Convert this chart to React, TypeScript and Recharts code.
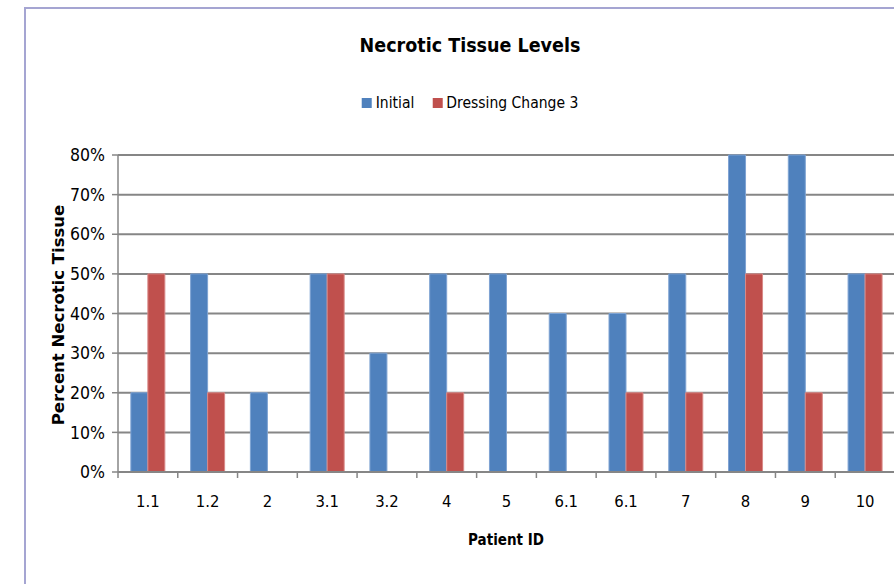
import React from "react"
import { BarChart, Bar, XAxis, YAxis, CartesianGrid } from "recharts"

const patients = ["1.1", "1.2", "2", "3.1", "3.2", "4", "5", "6.1", "6.1", "7", "8", "9", "10"]
const initial = [0.2, 0.5, 0.2, 0.5, 0.3, 0.5, 0.5, 0.4, 0.4, 0.5, 0.8, 0.8, 0.5]
const dressingChange3 = [0.5, 0.2, 0, 0.5, 0, 0.2, 0, 0, 0.2, 0.2, 0.5, 0.2, 0.5]
const yTicks = [0, 0.1, 0.2, 0.3, 0.4, 0.5, 0.6, 0.7, 0.8]
const seriesNames = ["Initial", "Dressing Change 3"]

const data = patients.map((p, i) => ({ id: p, initial: initial[i], dc3: dressingChange3[i] }))

const FONT = "'DejaVu Sans Condensed', 'Liberation Sans', sans-serif"
const BLUE = "#4f81bd"
const RED = "#c0504d"
const GRID = "#868686"

const W = 894
const H = 584
const PLOT_LEFT = 118
const PLOT_RIGHT = 895
const BAND = (PLOT_RIGHT - PLOT_LEFT) / patients.length

function XTick(props: any) {
  const { x, y, payload, index } = props
  const left = x - BAND / 2
  return (
    <g>
      <line x1={left} y1={y - 8} x2={left} y2={y - 2} stroke={GRID} strokeWidth={1.5} />
      {index === patients.length - 1 && (
        <line x1={left + BAND} y1={y - 8} x2={left + BAND} y2={y - 2} stroke={GRID} strokeWidth={1.5} />
      )}
      <text x={x} y={y + 27} textAnchor="middle" fontSize={16.5} fontFamily={FONT} fill="#000">
        {payload.value}
      </text>
    </g>
  )
}

export default function App() {
  const colors = [BLUE, RED]
  return (
    <div style={{ position: "absolute", left: 0, top: 0, width: W, height: H, overflow: "hidden", background: "#fff" }}>
      <div
        style={{
          position: "absolute",
          left: 24,
          top: 7,
          width: 900,
          height: 620,
          borderLeft: "2px solid #a5a5d2",
          borderTop: "2px solid #a5a5d2",
        }}
      />
      <div
        style={{
          position: "absolute",
          left: 470,
          top: 45,
          transform: "translate(-50%, -50%)",
          whiteSpace: "nowrap",
          fontFamily: FONT,
          fontWeight: "bold",
          fontSize: 19.5,
          color: "#000",
        }}
      >
        Necrotic Tissue Levels
      </div>
      <div
        style={{
          position: "absolute",
          left: 470,
          top: 103,
          transform: "translate(-50%, -50%)",
          display: "flex",
          gap: 18,
          whiteSpace: "nowrap",
          fontFamily: FONT,
          fontSize: 15.5,
          color: "#000",
        }}
      >
        {seriesNames.map((name, i) => (
          <div key={name} style={{ display: "flex", alignItems: "center" }}>
            <span style={{ width: 10, height: 10, background: colors[i], display: "inline-block", marginRight: 4 }} />
            {name}
          </div>
        ))}
      </div>
      <div style={{ position: "absolute", left: 0, top: 0 }}>
        <BarChart
          width={W}
          height={H}
          data={data}
          margin={{ top: 155, right: W - PLOT_RIGHT, bottom: 82, left: 0 }}
          barCategoryGap="21.5%"
          barGap={0}
        >
          <CartesianGrid vertical={false} stroke={GRID} strokeWidth={2} />
          <XAxis
            dataKey="id"
            interval={0}
            height={30}
            tickLine={false}
            axisLine={{ stroke: GRID, strokeWidth: 2 }}
            tick={<XTick />}
          />
          <YAxis
            width={PLOT_LEFT}
            domain={[0, 0.8]}
            ticks={yTicks}
            interval={0}
            tickFormatter={(v: number) => `${Math.round(v * 100)}%`}
            axisLine={{ stroke: GRID, strokeWidth: 1.5 }}
            tickLine={{ stroke: GRID, strokeWidth: 1.5 }}
            tickSize={6}
            tickMargin={7}
            tick={{ fontSize: 17.5, fontFamily: FONT, fill: "#000" }}
          />
          <Bar dataKey="initial" name="Initial" fill={BLUE} stroke="#7ea3d3" strokeWidth={1} isAnimationActive={false} />
          <Bar dataKey="dc3" name="Dressing Change 3" fill={RED} stroke="#d98a88" strokeWidth={1} isAnimationActive={false} />
        </BarChart>
      </div>
      <div
        style={{
          position: "absolute",
          left: 58,
          top: 315,
          transform: "translate(-50%, -50%) rotate(-90deg)",
          whiteSpace: "nowrap",
          fontFamily: "'DejaVu Sans', sans-serif",
          fontWeight: "bold",
          fontSize: 16.5,
          color: "#000",
        }}
      >
        Percent Necrotic Tissue
      </div>
      <div
        style={{
          position: "absolute",
          left: 506,
          top: 540,
          transform: "translate(-50%, -50%)",
          whiteSpace: "nowrap",
          fontFamily: FONT,
          fontWeight: "bold",
          fontSize: 15,
          color: "#000",
        }}
      >
        Patient ID
      </div>
    </div>
  )
}
